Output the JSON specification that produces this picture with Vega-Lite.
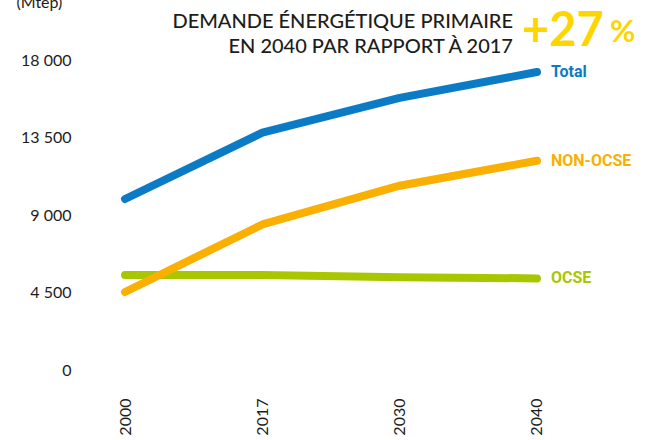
{
  "$schema": "https://vega.github.io/schema/vega-lite/v6.json",
  "autosize": "none",
  "width": 502,
  "height": 310,
  "padding": {"left": 80, "top": 60, "right": 70, "bottom": 70},
  "background": "white",
  "config": {"view": {"stroke": null}, "font": "Lato"},
  "datasets": {
    "series": [
      {"year": "2000", "region": "OCSE", "value": 5520},
      {"year": "2017", "region": "OCSE", "value": 5520},
      {"year": "2030", "region": "OCSE", "value": 5390},
      {"year": "2040", "region": "OCSE", "value": 5320},
      {"year": "2000", "region": "NON-OCSE", "value": 4530},
      {"year": "2017", "region": "NON-OCSE", "value": 8450},
      {"year": "2030", "region": "NON-OCSE", "value": 10700},
      {"year": "2040", "region": "NON-OCSE", "value": 12150},
      {"year": "2000", "region": "Total", "value": 9930},
      {"year": "2017", "region": "Total", "value": 13780},
      {"year": "2030", "region": "Total", "value": 15800},
      {"year": "2040", "region": "Total", "value": 17300}
    ],
    "annot": [
      {"year": "2040", "value": 18000, "big": "+27", "small": "%", "head": ["DEMANDE ÉNERGÉTIQUE PRIMAIRE", "EN 2040 PAR RAPPORT À 2017"]}
    ]
  },
  "layer": [
    {
      "data": {"name": "series"},
      "mark": {"type": "line", "strokeWidth": 8, "strokeCap": "round", "strokeJoin": "round"},
      "encoding": {
        "x": {
          "field": "year", "type": "ordinal",
          "sort": ["2000", "2017", "2030", "2040"],
          "scale": {"type": "point", "padding": 0.328},
          "axis": {
            "title": null, "domain": false, "ticks": false, "grid": false,
            "labelAngle": -90, "labelPadding": 28, "labelFontSize": 16,
            "labelColor": "#1d1d1b", "labelFont": "Lato"
          }
        },
        "y": {
          "field": "value", "type": "quantitative",
          "scale": {"domain": [0, 18000], "nice": false},
          "axis": {
            "values": [0, 4500, 9000, 13500, 18000],
            "labelExpr": "replace(format(datum.value, ','), ',', ' ')",
            "domain": false, "ticks": false, "grid": false,
            "labelPadding": 9, "labelFontSize": 16, "labelColor": "#1d1d1b", "labelFont": "Lato",
            "title": "(Mtep)", "titleAngle": 0, "titleAlign": "left", "titleBaseline": "middle",
            "titleX": -64, "titleY": -58, "titleFontSize": 16, "titleFontWeight": "normal",
            "titleColor": "#1d1d1b", "titleFont": "Lato"
          }
        },
        "color": {
          "field": "region", "type": "nominal",
          "scale": {"domain": ["OCSE", "NON-OCSE", "Total"], "range": ["#a8c700", "#f9b000", "#0a7bc4"]},
          "legend": null
        },
        "order": {"field": "year"}
      }
    },
    {
      "data": {"name": "series"},
      "transform": [{"filter": "datum.year == '2040'"}],
      "mark": {"type": "text", "align": "left", "baseline": "middle", "dx": 14, "font": "Roboto", "fontWeight": "bold", "fontSize": 16},
      "encoding": {
        "x": {"field": "year", "type": "ordinal", "sort": ["2000", "2017", "2030", "2040"]},
        "y": {"field": "value", "type": "quantitative"},
        "text": {"field": "region"},
        "color": {"field": "region", "type": "nominal", "legend": null}
      }
    },
    {
      "data": {"name": "annot"},
      "mark": {"type": "text", "align": "right", "baseline": "alphabetic", "dx": -24, "dy": -32, "lineHeight": 25, "font": "Lato", "fontWeight": 500, "fontSize": 20, "color": "#1d1d1b"},
      "encoding": {
        "x": {"field": "year", "type": "ordinal", "sort": ["2000", "2017", "2030", "2040"]},
        "y": {"field": "value", "type": "quantitative"},
        "text": {"field": "head"}
      }
    },
    {
      "data": {"name": "annot"},
      "mark": {"type": "text", "align": "left", "baseline": "alphabetic", "dx": -15, "dy": -14, "font": "Lato", "fontWeight": "bold", "fontSize": 47, "color": "#ffd500"},
      "encoding": {
        "x": {"field": "year", "type": "ordinal", "sort": ["2000", "2017", "2030", "2040"]},
        "y": {"field": "value", "type": "quantitative"},
        "text": {"field": "big"}
      }
    },
    {
      "data": {"name": "annot"},
      "mark": {"type": "text", "align": "left", "baseline": "alphabetic", "dx": 73, "dy": -18, "font": "Lato", "fontWeight": "bold", "fontSize": 31, "color": "#ffd500"},
      "encoding": {
        "x": {"field": "year", "type": "ordinal", "sort": ["2000", "2017", "2030", "2040"]},
        "y": {"field": "value", "type": "quantitative"},
        "text": {"field": "small"}
      }
    }
  ]
}
